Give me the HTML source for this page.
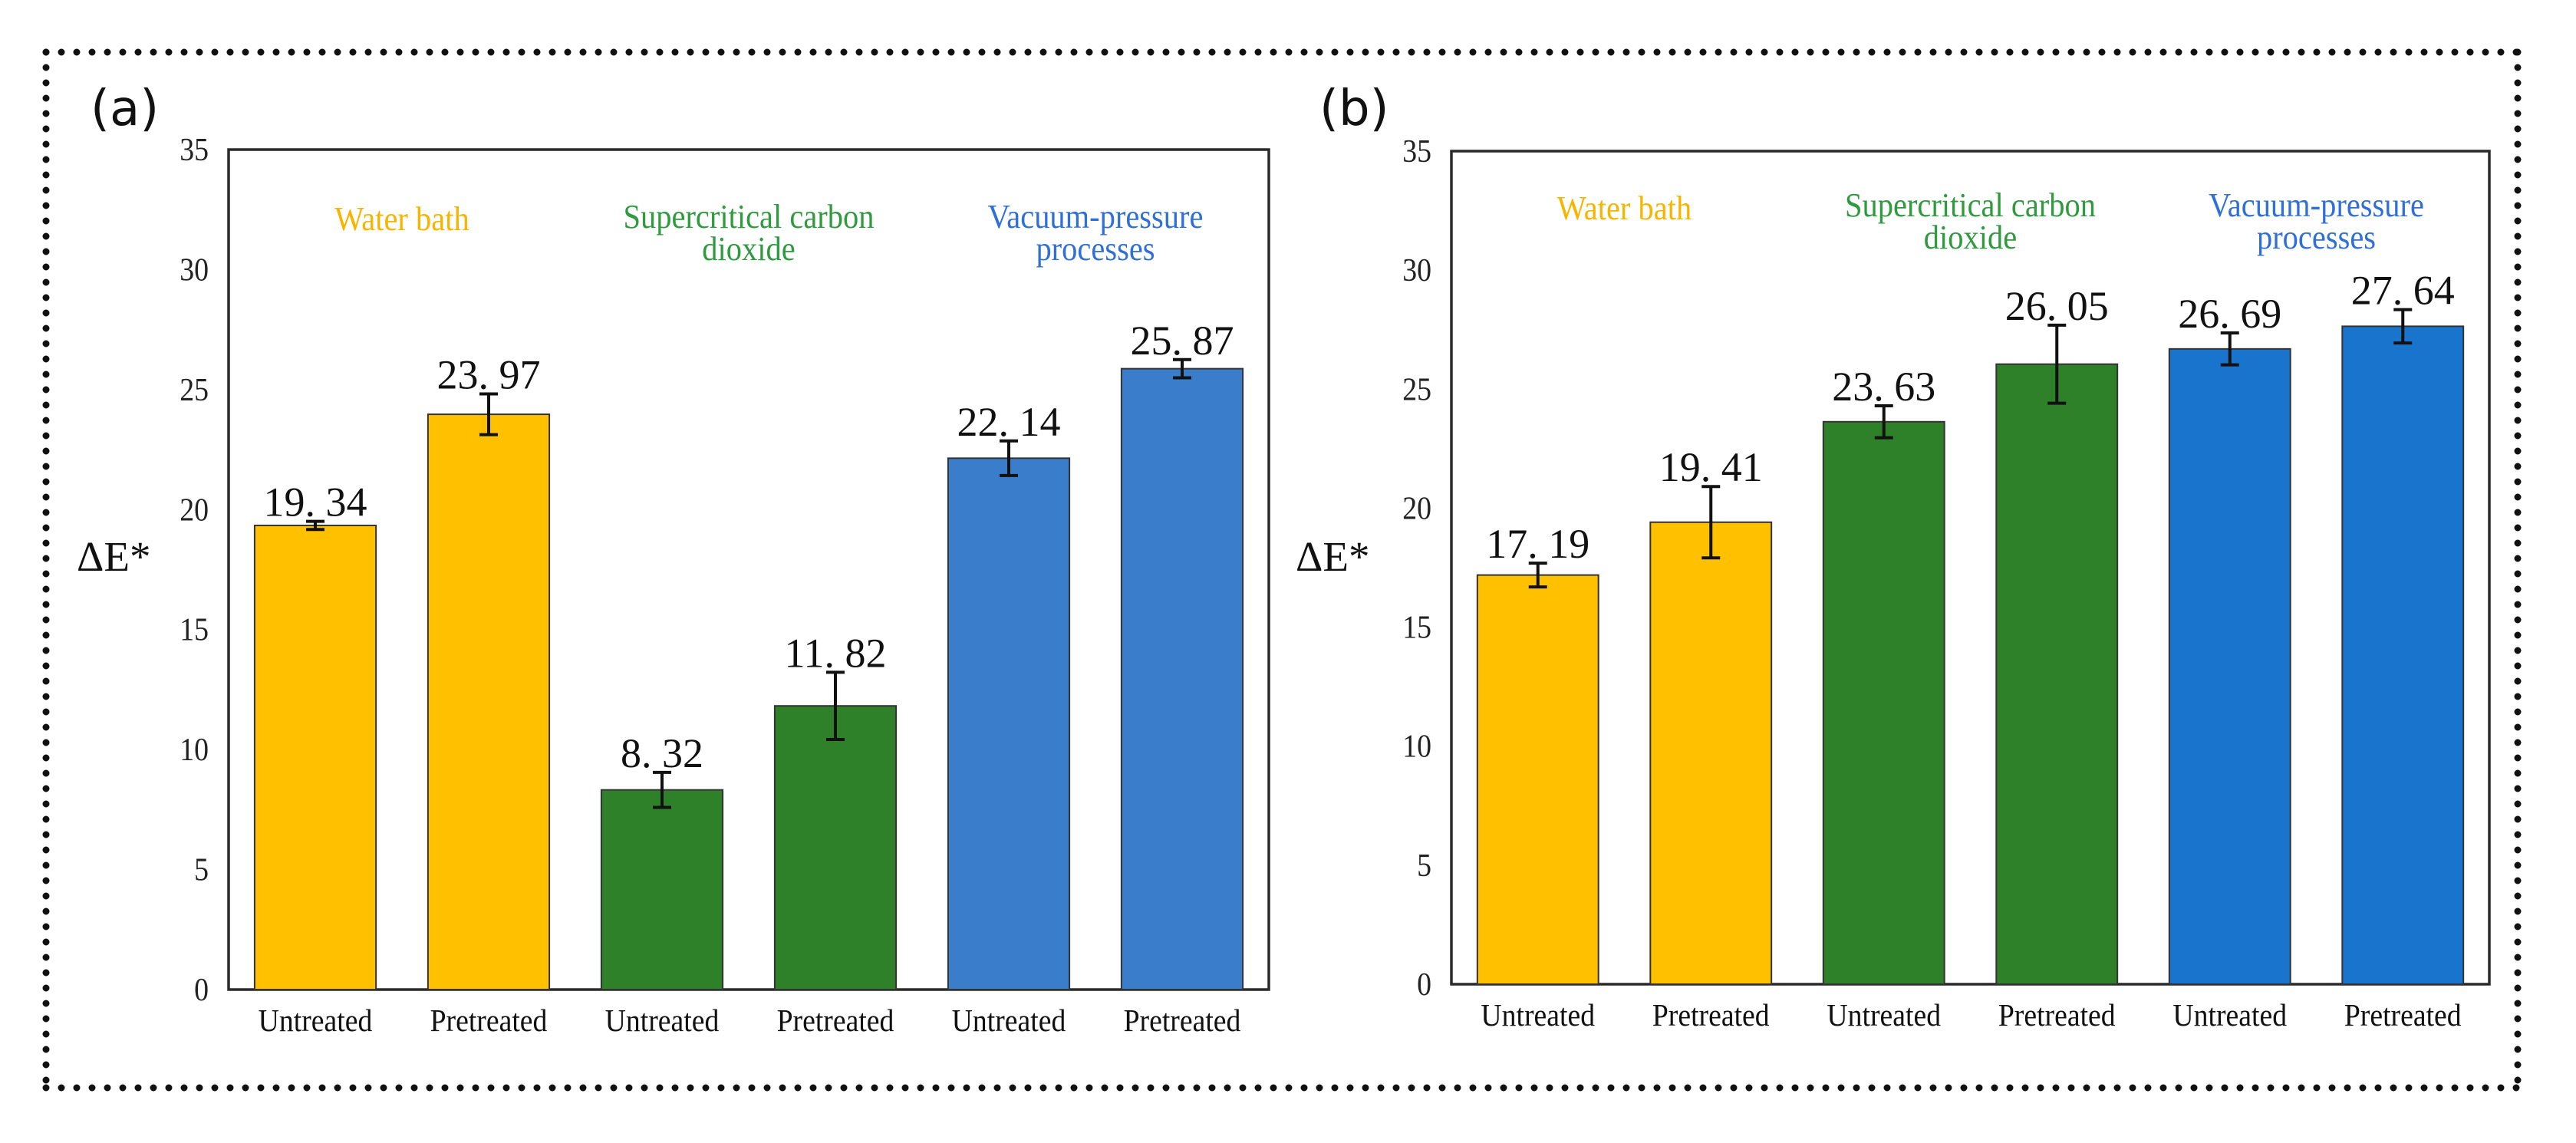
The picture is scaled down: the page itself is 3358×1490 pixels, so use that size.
<!DOCTYPE html>
<html><head><meta charset="utf-8">
<style>
html,body{margin:0;padding:0;background:#fff;}
svg{display:block;}
text{font-family:"Liberation Serif","Noto Serif CJK SC",serif;}
</style></head>
<body>
<svg id="fig" width="3358" height="1490" viewBox="0 0 3358 1490" xmlns="http://www.w3.org/2000/svg">
  <rect x="0" y="0" width="3358" height="1490" fill="#fff"/>
  <g stroke="#111" stroke-width="9" stroke-linecap="round" stroke-dasharray="0 20" fill="none">
    <line x1="60" y1="68" x2="3282" y2="68"/>
    <line x1="60" y1="1418" x2="3282" y2="1418"/>
    <line x1="60" y1="68" x2="60" y2="1418"/>
    <line x1="3282" y1="68" x2="3282" y2="1418"/>
  </g>
  <g id="panelA"></g>
  <g id="panelB"></g>
</svg>
<script>
const categories = ["Untreated","Pretreated","Untreated","Pretreated","Untreated","Pretreated"];
const groupNames = [["Water bath"],["Supercritical carbon","dioxide"],["Vacuum-pressure","processes"]];
const yTicks = [0,5,10,15,20,25,30,35];
const valuesA = [19.34, 23.97, 8.32, 11.82, 22.14, 25.87];
const errorsA = [0.17, 0.85, 0.73, 1.4, 0.72, 0.38];
const labelsA = ["19. 34","23. 97","8. 32","11. 82","22. 14","25. 87"];
const valuesB = [17.19, 19.41, 23.63, 26.05, 26.69, 27.64];
const errorsB = [0.5, 1.5, 0.67, 1.64, 0.67, 0.7];
const labelsB = ["17. 19","19. 41","23. 63","26. 05","26. 69","27. 64"];

const NS = "http://www.w3.org/2000/svg";
function mk(tag, attrs, parent){
  const e = document.createElementNS(NS, tag);
  for (const k in attrs) e.setAttribute(k, attrs[k]);
  parent.appendChild(e);
  return e;
}

function drawPanel(g, cfg, values, errors, labels){
  const yScale = v => cfg.y0 - (v/35)*(cfg.y0 - cfg.top);
  const slot = (cfg.right - cfg.left)/values.length;
  const xCenter = i => cfg.left + slot*(i+0.5);
  const bw = slot*0.70;

  const pl = mk("text", {x:cfg.letterX, y:163, "font-size":64, fill:"#111", style:'font-family:"DejaVu Sans","Liberation Sans",sans-serif'}, g);
  pl.textContent = cfg.letter;
  
  

  const yt = mk("text", {x:cfg.yTitleX, y:744, "font-size":55, fill:"#111"}, g);
  yt.textContent = "ΔE*";
  
  

  yTicks.forEach(t => {
    const tl = mk("text", {x:cfg.left-26, y:yScale(t)+14, "font-size":42, "text-anchor":"end", fill:"#222", transform:`translate(${cfg.left-26},0) scale(0.9,1) translate(${-(cfg.left-26)},0)`}, g);
    tl.textContent = String(t);
    
    
  });

  const fr = mk("rect", {x:cfg.left, y:cfg.top, width:cfg.right-cfg.left, height:cfg.y0-cfg.top, fill:"none", stroke:"#2a2a2a", "stroke-width":3.5}, g);
  
  

  groupNames.forEach((lines, gi) => {
    const cx = cfg.left + slot*(gi*2+1) + cfg.groupDx[gi];
    lines.forEach((ln, li) => {
      const t = mk("text", {x:cx, y:cfg.groupY[gi] + li*42, "font-size":44, "text-anchor":"middle", fill:cfg.groupColors[gi], transform:`translate(${cx},0) scale(0.92,1) translate(${-cx},0)`}, g);
      t.textContent = ln;
      
      
    });
  });

  values.forEach((v, i) => {
    const cx = xCenter(i);
    const color = cfg.colors[Math.floor(i/2)];
    const b = mk("rect", {x:cx-bw/2, y:yScale(v), width:bw, height:cfg.y0-yScale(v), fill:color, stroke:"#333", "stroke-width":2}, g);
    
    

    const e = errors[i];
    const eg = mk("g", {stroke:"#111", "stroke-width":4, fill:"none"}, g);
    
    
    mk("line", {x1:cx, y1:yScale(v+e), x2:cx, y2:yScale(v-e)}, eg);
    mk("line", {x1:cx-12, y1:yScale(v+e), x2:cx+12, y2:yScale(v+e)}, eg);
    mk("line", {x1:cx-12, y1:yScale(v-e), x2:cx+12, y2:yScale(v-e)}, eg);

    const vl = mk("text", {x:cx, y:yScale(v+e)-7, "font-size":54, "text-anchor":"middle", fill:"#111"}, g);
    vl.textContent = labels[i];
    
    

    const xl = mk("text", {x:cx, y:cfg.y0+54, "font-size":41, "text-anchor":"middle", fill:"#111", transform:`translate(${cx},0) scale(0.92,1) translate(${-cx},0)`}, g);
    xl.textContent = categories[i];
    
    
  });
}

drawPanel(document.getElementById("panelA"), {
  left:298, right:1654, top:195, y0:1290, letter:"(a)", letterX:118, yTitleX:100,
  colors:["#FFC000","#2E8129","#3A7ECB"],
  groupColors:["#F7B500","#2F9A3E","#2F6FD6"],
  groupY:[300,297,297], groupDx:[0,0,0]
}, valuesA, errorsA, labelsA);

drawPanel(document.getElementById("panelB"), {
  left:1892, right:3245, top:197, y0:1283, letter:"(b)", letterX:1720, yTitleX:1689,
  colors:["#FFC000","#2E8129","#1874CD"],
  groupColors:["#F7B500","#2F9A3E","#2F6FD6"],
  groupY:[286,282,282], groupDx:[0,0,0]
}, valuesB, errorsB, labelsB);
</script>
</body></html>
